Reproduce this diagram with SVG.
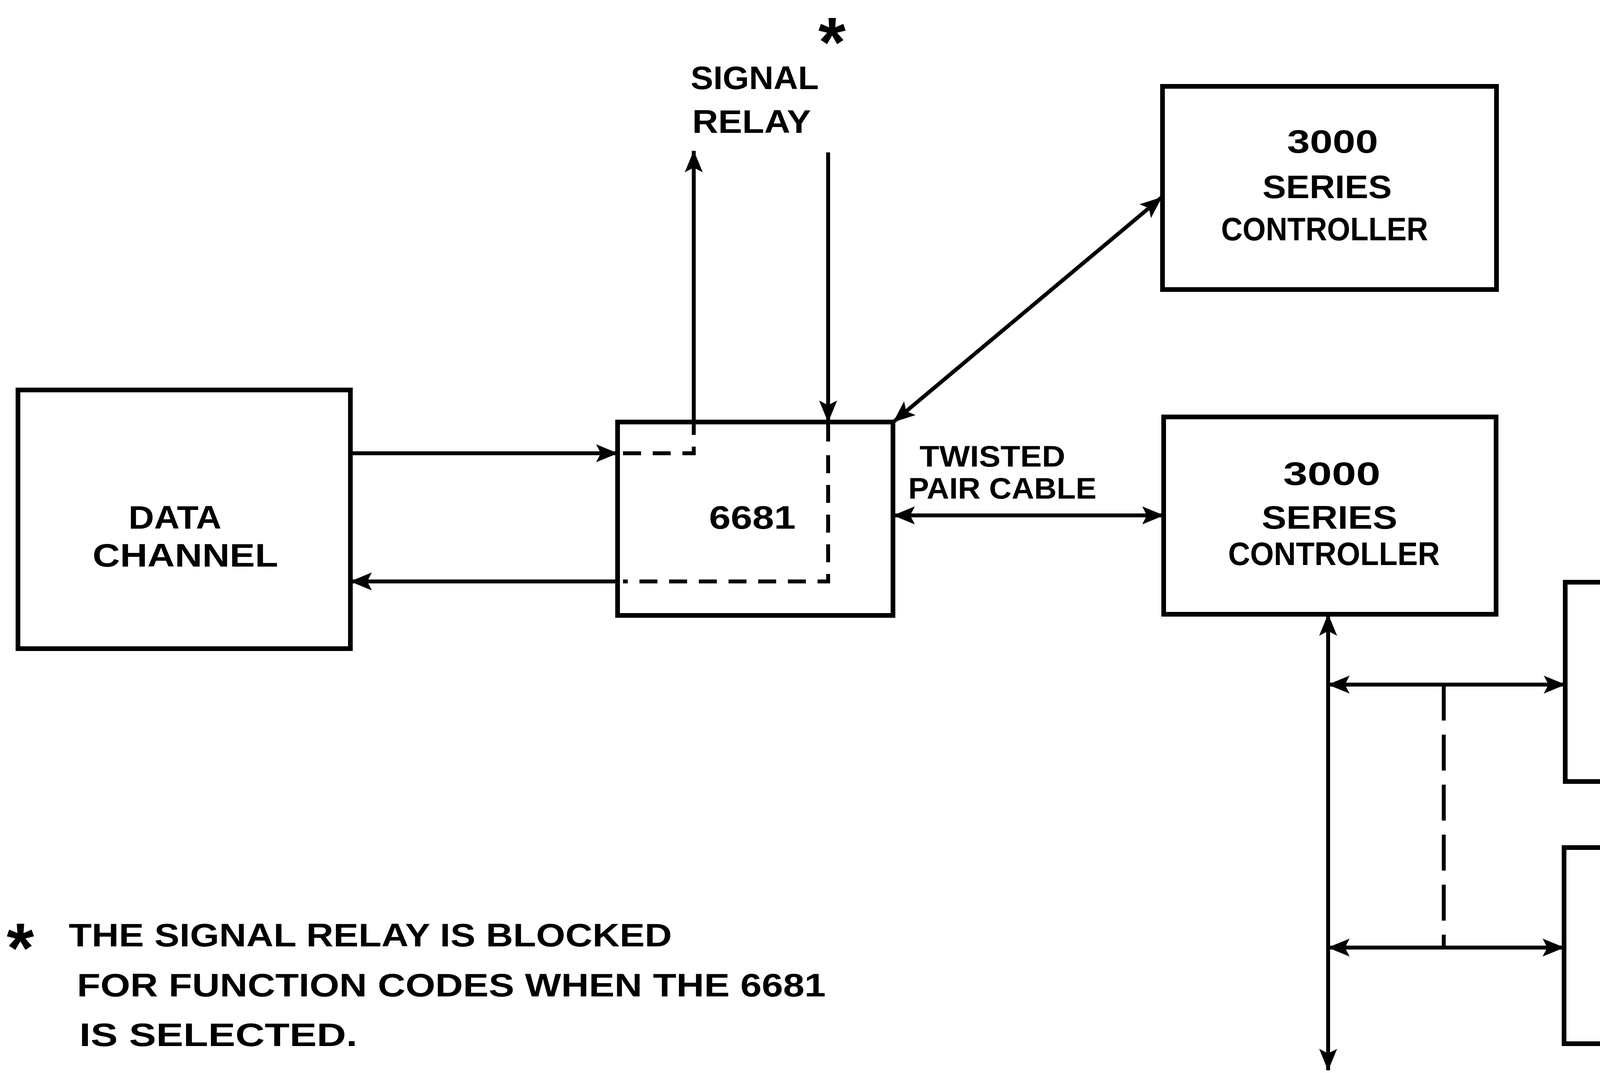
<svg xmlns="http://www.w3.org/2000/svg" width="4832" height="2746" viewBox="0 0 4832 2746">
<style>
.box{fill:none;stroke:#000;stroke-width:12}
.ln{fill:none;stroke:#000;stroke-width:10}
.dl{fill:none;stroke:#000;stroke-width:10;stroke-dasharray:46 30}
.dl2{fill:none;stroke:#000;stroke-width:10;stroke-dasharray:92 36}
.t{font-family:"Liberation Sans",Arial,sans-serif;font-weight:bold;font-size:84px;fill:#000}
.s{font-size:76px}
.ast{font-family:"Liberation Sans",Arial,sans-serif;font-weight:bold;font-size:180px;fill:#000;text-anchor:middle}
</style>
<defs>
<marker id="ah" markerUnits="userSpaceOnUse" markerWidth="56" markerHeight="48" viewBox="0 0 56 48" refX="55" refY="24" orient="auto-start-reverse">
<path d="M0,1 L56,24 L0,47 L12,24 Z" fill="#000"/>
</marker>
</defs>
<rect width="4832" height="2746" fill="#fff"/>

<g id="data-channel">
<rect class="box" x="46" y="998" width="851" height="662"/>
<text class="t" x="329" y="1353" textLength="238" lengthAdjust="spacingAndGlyphs">DATA</text>
<text class="t" x="237" y="1450" textLength="475" lengthAdjust="spacingAndGlyphs">CHANNEL</text>
</g>

<g id="unit-6681">
<rect class="box" x="1581" y="1080" width="705" height="495"/>
<text class="t" x="1815" y="1353" textLength="222" lengthAdjust="spacingAndGlyphs">6681</text>
</g>

<g id="controller-top">
<rect class="box" x="2976" y="221" width="855" height="520"/>
<text class="t" x="3295" y="391" textLength="233" lengthAdjust="spacingAndGlyphs">3000</text>
<text class="t" x="3232" y="507" textLength="331" lengthAdjust="spacingAndGlyphs">SERIES</text>
<text class="t" x="3126" y="615" textLength="530" lengthAdjust="spacingAndGlyphs">CONTROLLER</text>
</g>

<g id="controller-mid">
<rect class="box" x="2979" y="1067" width="851" height="505"/>
<text class="t" x="3285" y="1241" textLength="249" lengthAdjust="spacingAndGlyphs">3000</text>
<text class="t" x="3230" y="1353" textLength="347" lengthAdjust="spacingAndGlyphs">SERIES</text>
<text class="t" x="3144" y="1446" textLength="542" lengthAdjust="spacingAndGlyphs">CONTROLLER</text>
</g>

<g id="external-1">
<path class="box" d="M4832,1490 H4007 V2000 H4832"/>
<text class="t" x="4179" y="1714" textLength="536" lengthAdjust="spacingAndGlyphs">EXTERNAL</text>
<text class="t" x="4179" y="1843" textLength="572" lengthAdjust="spacingAndGlyphs">EQUIPMENT</text>
</g>

<g id="external-2">
<path class="box" d="M4832,2169 H4004 V2671 H4832"/>
<text class="t" x="4174" y="2380" textLength="513" lengthAdjust="spacingAndGlyphs">EXTERNAL</text>
<text class="t" x="4174" y="2504" textLength="557" lengthAdjust="spacingAndGlyphs">EQUIPMENT</text>
</g>

<g id="connectors">
<line class="ln" x1="897" y1="1160" x2="1581" y2="1160" marker-end="url(#ah)"/>
<path class="dl" d="M1595,1160 H1776 V1105"/>
<line class="ln" x1="1776" y1="1108" x2="1776" y2="386" marker-end="url(#ah)"/>
<line class="ln" x1="2120" y1="390" x2="2120" y2="1080" marker-end="url(#ah)"/>
<line class="ln" x1="2120" y1="1080" x2="2120" y2="1130"/>
<path class="dl" d="M2120,1165 V1488 H1595"/>
<line class="ln" x1="1581" y1="1488" x2="897" y2="1488" marker-end="url(#ah)"/>
<line class="ln" x1="2287" y1="1080" x2="2974" y2="505" marker-start="url(#ah)" marker-end="url(#ah)"/>
<line class="ln" x1="2287" y1="1319" x2="2979" y2="1319" marker-start="url(#ah)" marker-end="url(#ah)"/>
<line class="ln" x1="3400" y1="1572" x2="3400" y2="2739" marker-start="url(#ah)" marker-end="url(#ah)"/>
<line class="ln" x1="3400" y1="1752" x2="4007" y2="1752" marker-start="url(#ah)" marker-end="url(#ah)"/>
<line class="ln" x1="3400" y1="2425" x2="4004" y2="2425" marker-start="url(#ah)" marker-end="url(#ah)"/>
<line class="dl2" x1="3696" y1="1752" x2="3696" y2="2425"/>
</g>

<g id="labels">
<text class="ast" x="2130" y="170">*</text>
<text class="t" x="1768" y="228" textLength="328" lengthAdjust="spacingAndGlyphs">SIGNAL</text>
<text class="t" x="1772" y="340" textLength="304" lengthAdjust="spacingAndGlyphs">RELAY</text>
<text class="t s" x="2354" y="1194" textLength="373" lengthAdjust="spacingAndGlyphs">TWISTED</text>
<text class="t s" x="2325" y="1276" textLength="482" lengthAdjust="spacingAndGlyphs">PAIR CABLE</text>
</g>

<g id="footnote">
<text class="ast" x="52" y="2488">*</text>
<text class="t" x="176" y="2422" textLength="1544" lengthAdjust="spacingAndGlyphs">THE SIGNAL RELAY IS BLOCKED</text>
<text class="t" x="197" y="2550" textLength="1917" lengthAdjust="spacingAndGlyphs">FOR FUNCTION CODES WHEN THE 6681</text>
<text class="t" x="203" y="2677" textLength="712" lengthAdjust="spacingAndGlyphs">IS SELECTED.</text>
</g>
</svg>
